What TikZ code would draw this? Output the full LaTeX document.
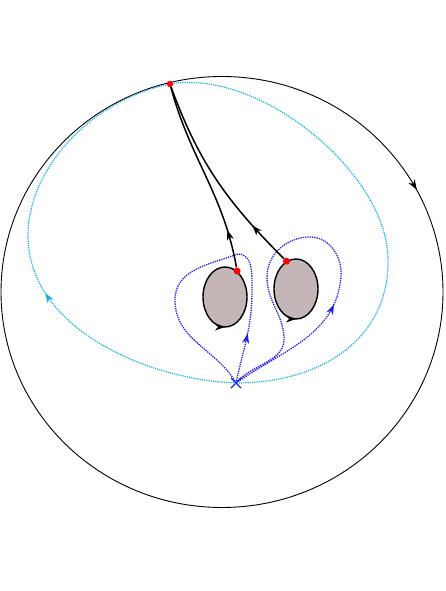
\documentclass[tikz,border=0pt]{standalone}
\usetikzlibrary{arrows.meta,shapes.geometric,shapes.misc,decorations.markings}
\definecolor{holefill}{RGB}{196,182,182}
\definecolor{cyanline}{RGB}{20,175,225}
\definecolor{blueline}{RGB}{30,30,235}
\tikzstyle{hole} = [ellipse,
                    draw=black,
                    fill=holefill,
                    line width=1.4pt,
                    inner sep=0pt,
                    minimum width=44pt,
                    minimum height=60pt]
\tikzstyle{dot} = [circle,
                   fill=red,
                   inner sep=0pt,
                   minimum size=7pt]
\tikzstyle{flow} = [black, line width=1.5pt]
\tikzstyle{cyanloop} = [cyanline, densely dotted, line width=1.2pt]
\tikzstyle{blueloop} = [blueline, densely dotted, line width=1.3pt]
\tikzset{arrowat/.style={postaction={decorate,
           decoration={markings, mark=at position #1 with {\arrow{>}}}}}}
\tikzset{backarrowat/.style={postaction={decorate,
           decoration={markings, mark=at position #1 with {\arrow{<}}}}}}
\tikzstyle{control} = [x=1pt,
                      y=1pt,
                      >={Stealth[length=10pt, width=7pt, inset=3pt]}]

\begin{document}
\begin{tikzpicture}[control]
    \useasboundingbox (0,0) rectangle (445,591);
    % outer boundary
    \draw[line width=0.9pt, backarrowat=0.085] (222,299) ellipse [x radius=221, y radius=215.5];
    \node (hole1) [hole, arrowat=0.75] at (225,294) {};
    \node (hole2) [hole, arrowat=0.75] at (296,302) {};
    \node (top) [dot, minimum size=6pt] at (170,507) {};
    \node (p1) [dot] at (hole1.65) {};
    \node (p2) [dot] at (hole2.109) {};
    \node (x) [cross out, draw=blueline, line width=1.2pt, inner sep=0pt, minimum size=9pt] at (236,208) {};
    % big loop
    \draw[cyanloop, arrowat=0.212] (x.center)
      .. controls (150,211) and (28,261) .. (28,356)
      .. controls (28,421) and (90,491) .. (top.center)
      .. controls (260,523) and (390,416) .. (388,329)
      .. controls (388,251) and (320,208) .. (x.center);
    % small loops
    \draw[blueloop, arrowat=0.155] (x.center) to[out=78, in=-90] (252,300)
      to[out=90, in=0] (238,337) to[out=200, in=90] (175,291)
      to[out=-90, in=120] (x.center);
    \draw[blueloop, arrowat=0.31] (x.center) to[out=35, in=-95] (341,314)
      to[out=85, in=0] (310,354) to[out=180, in=90] (267,314)
      to[out=-90, in=95] (284,255) to[out=-85, in=50] (x.center);
    % flow lines
    \draw[flow, arrowat=0.2] (p1) to[out=100, in=-75] (top);
    \draw[flow, arrowat=0.22] (p2) to[out=135, in=-70] (top);
    \node (top) [dot, minimum size=6pt] at (170,507) {};
  \end{tikzpicture}
\end{document}
